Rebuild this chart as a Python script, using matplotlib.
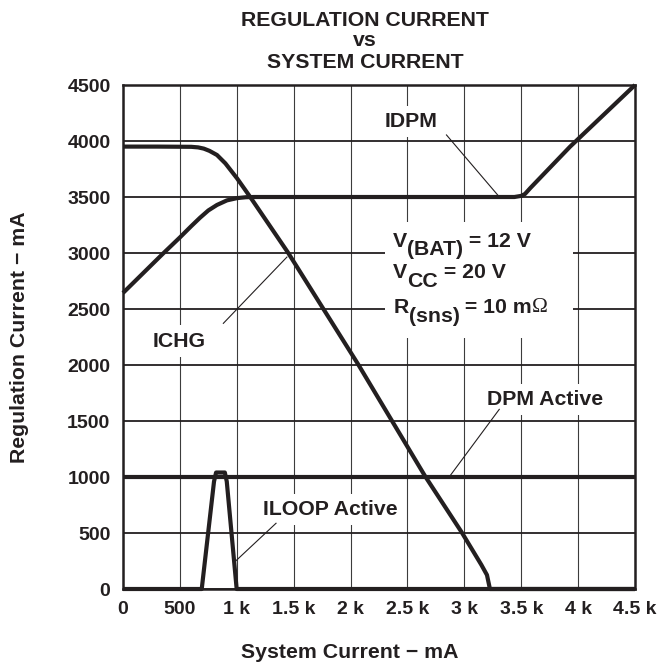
import matplotlib
matplotlib.use("Agg")
import matplotlib.pyplot as plt
from matplotlib.patches import Rectangle

plt.rcParams["font.family"] = ["Liberation Sans", "DejaVu Sans"]
plt.rcParams["font.weight"] = "bold"

INK = "#231f20"

# Axis ticks and labels
x_ticks = [0, 500, 1000, 1500, 2000, 2500, 3000, 3500, 4000, 4500]
x_tick_labels = ["0", "500", "1 k", "1.5 k", "2 k", "2.5 k", "3 k", "3.5 k", "4 k", "4.5 k"]
y_ticks = [0, 500, 1000, 1500, 2000, 2500, 3000, 3500, 4000, 4500]
y_tick_labels = ["0", "500", "1000", "1500", "2000", "2500", "3000", "3500", "4000", "4500"]

# Charge current (falls as system current rises)
ichg_x = [0, 300, 600, 660, 710, 760, 826, 900, 1002, 1116, 1450, 2065, 2654, 2977,
          3150, 3199, 3225, 4500]
ichg_y = [3950, 3950, 3948, 3943, 3932, 3912, 3875, 3800, 3667, 3503, 3004, 2009, 1009,
          506, 215, 125, 0, 0]

# Input DPM current
idpm_x = [0, 352, 501, 600, 677, 750, 826, 914, 1002, 1080, 1150, 3440, 3500, 3533,
          3580, 3929, 4500]
idpm_y = [2643, 2995, 3140, 3240, 3315, 3380, 3429, 3470, 3490, 3498, 3500, 3500, 3510,
          3527, 3580, 3949, 4500]

# DPM active flag
dpm_x = [0, 4500]
dpm_y = [1000, 1000]

# ILOOP active flag
iloop_x = [0, 692, 800, 818, 895, 912, 999, 4500]
iloop_y = [0, 0, 960, 1040, 1040, 960, 0, 0]

fig = plt.figure(figsize=(6.69, 6.62), dpi=100)
ax = fig.add_axes([123 / 669, 73 / 662, 512 / 669, 504 / 662])
ax.set_xlim(0, 4500)
ax.set_ylim(0, 4500)
ax.set_xticks(x_ticks)
ax.set_xticklabels(x_tick_labels)
ax.set_yticks(y_ticks)
ax.set_yticklabels(y_tick_labels)
ax.tick_params(length=0, labelsize=14, pad=9, colors=INK)
for lab in ax.get_xticklabels() + ax.get_yticklabels():
    lab.set_fontweight("bold")

ax.set_axisbelow(True)
ax.xaxis.grid(True, color="#3c3c3c", lw=0.8, zorder=0)
ax.yaxis.grid(True, color=INK, lw=1.3, zorder=0)
for sp in ax.spines.values():
    sp.set_linewidth(1.8)
    sp.set_color(INK)
    sp.set_zorder(6)

LW = 3.0
for xs, ys in [(dpm_x, dpm_y), (iloop_x, iloop_y), (idpm_x, idpm_y), (ichg_x, ichg_y)]:
    ax.plot(xs, ys, color=INK, lw=LW, solid_joinstyle="round", solid_capstyle="butt",
            clip_on=False, zorder=7)

FS = 15.3
label_kw = dict(fontsize=FS, fontweight="bold", color=INK, zorder=5)
box = dict(boxstyle="square,pad=0.3", facecolor="white", edgecolor="none")


def callout(text, xy_text, line_from, line_to):
    ax.text(*xy_text, text, ha="center", va="baseline", bbox=box, **label_kw)
    ax.plot([line_from[0], line_to[0]], [line_from[1], line_to[1]],
            color=INK, lw=0.8, zorder=6)


callout("IDPM", (2536, 4125), (2843, 4054), (3298, 3512))
callout("ICHG", (492, 2163), (882, 2372), (1441, 2964))
callout("DPM Active", (3709, 1643), (3307, 1604), (2874, 1010))
callout("ILOOP Active", (1824, 661), (1345, 587), (984, 244))

# Condition block with its white backing
ax.add_patch(Rectangle((2302, 2241), 3954 - 2302, 3277 - 2241, facecolor="white",
                       edgecolor="none", zorder=2))


def chain(x, y, parts):
    prev = None
    cur = 0
    for s, dy, extra in parts:
        kw = dict(label_kw)
        kw.update(extra)
        if prev is None:
            prev = ax.text(x, y, s, ha="left", va="baseline", **kw)
        else:
            prev = ax.annotate(s, xy=(1, 0), xycoords=prev, xytext=(0, dy - cur),
                               textcoords="offset points", ha="left", va="bottom", **kw)
        cur = dy


SUB = -6.3
chain(2376, 3057, [("V", 0, {}), ("(BAT)", SUB, {}), (" = 12 V", 0, {})])
chain(2376, 2775, [("V", 0, {}), ("CC", SUB, {}), (" = 20 V", 0, {})])
chain(2376, 2462, [("R", 0, {}), ("(sns)", SUB, {}), (" = 10 m", 0, {}),
                   ("Ω", 0, {"family": "Liberation Serif", "fontweight": "normal"})])

# Titles and axis labels
for txt, ypx in [("REGULATION CURRENT", 20), ("vs", 41), ("SYSTEM CURRENT", 62)]:
    fig.text(365 / 669, 1 - ypx / 662, txt, ha="center", va="center",
             fontsize=FS, fontweight="bold", color=INK)
fig.text(350 / 669, 1 - 652 / 662, "System Current − mA", ha="center", va="center",
         fontsize=FS, fontweight="bold", color=INK)
fig.text(20 / 669, 1 - 337 / 662, "Regulation Current − mA", ha="center", va="center",
         rotation=90, fontsize=FS, fontweight="bold", color=INK)

fig.savefig("out.png", dpi=100)
